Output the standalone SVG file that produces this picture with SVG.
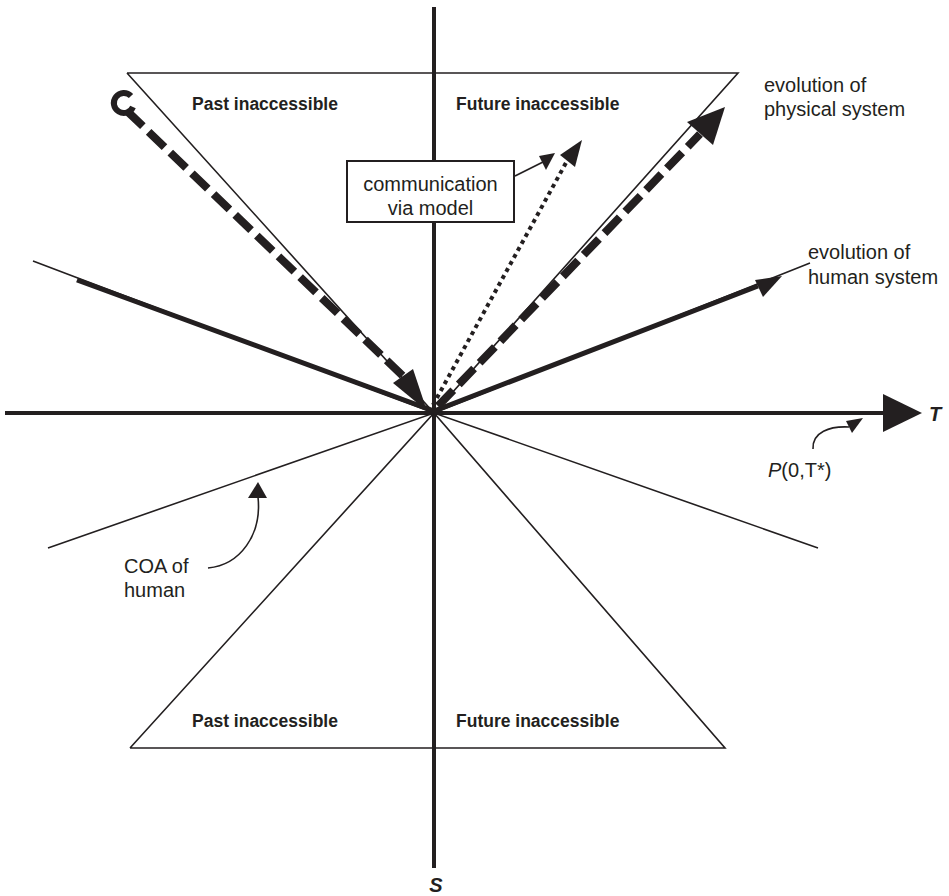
<svg xmlns="http://www.w3.org/2000/svg" width="949" height="896" viewBox="0 0 949 896">
<style>
.thin{stroke:#231f20;stroke-width:1.6;fill:none}
.axis{stroke:#231f20;stroke-width:4;fill:none}
.thick{stroke:#231f20;stroke-width:5;fill:none}
.dash{stroke:#231f20;stroke-width:8;fill:none;stroke-dasharray:22 8}
.dot{stroke:#231f20;stroke-width:4;fill:none;stroke-dasharray:4 4}
.head{fill:#231f20;stroke:none}
.lbl{font-family:"Liberation Sans",Arial,sans-serif;font-size:20px;fill:#231f20}
.b{font-weight:bold;font-size:17.5px}
.ax{font-weight:bold;font-style:italic;font-size:20px}
</style>
<rect width="949" height="896" fill="#fff"/>
<g id="connectors">
<line class="axis" x1="434" y1="7" x2="434" y2="868"/>
<line class="axis" x1="5" y1="413" x2="885" y2="413"/>
<polygon class="head" points="922,413 883,394 883,432"/>
<polyline class="thin" points="127,73 738,73 434,413 127,73"/>
<polyline class="thin" points="130,748 725,748 434,413 130,748"/>
<polyline class="thin" points="33,261 434,413 810,263"/>
<polyline class="thin" points="48,548 434,413 818,548"/>
<polyline class="thick" points="77,280 434,411 758,286"/>
<polygon class="head" points="782,276 755,280 763,297"/>
<path class="dash" d="M127,111 L403,376"/>
<polygon class="head" points="427,411 393,383 413,369"/>
<path d="M131,96 A10,10 0 1 0 133,107" stroke="#231f20" stroke-width="6" fill="none"/>
<path class="dash" d="M438,406 L700,134"/>
<polygon class="head" points="725,107 687,122 713,145"/>
<path class="dot" d="M433,405 L567,161"/>
<polygon class="head" points="582,140 560,155 575,167"/>
<line class="thin" x1="515" y1="176" x2="543" y2="162"/>
<polygon class="head" points="555,153 539,156 546,170"/>
<path class="thin" stroke-width="2.5" d="M208,568 C240,565 262,535 258,497"/>
<polygon class="head" points="258,482 248,498 267,498"/>
<path class="thin" stroke-width="2.5" d="M813,449 C812,432 830,426 849,427"/>
<polygon class="head" points="863,418 846,421 852,433"/>
</g>
<g id="node-box">
<rect x="347" y="161" width="167" height="61" fill="#fff" stroke="#231f20" stroke-width="2"/>
<text class="lbl" x="430.5" y="191" text-anchor="middle">communication</text>
<text class="lbl" x="430.5" y="215" text-anchor="middle">via model</text>
</g>
<g id="labels">
<text class="lbl b" x="192" y="110">Past inaccessible</text>
<text class="lbl b" x="456" y="110">Future inaccessible</text>
<text class="lbl b" x="192" y="727">Past inaccessible</text>
<text class="lbl b" x="456" y="727">Future inaccessible</text>
<text class="lbl" x="764" y="92">evolution of</text>
<text class="lbl" x="764" y="116">physical system</text>
<text class="lbl" x="808" y="259">evolution of</text>
<text class="lbl" x="808" y="284">human system</text>
<text class="lbl" x="768" y="477"><tspan font-style="italic">P</tspan>(0,T*)</text>
<text class="lbl" x="124" y="573">COA of</text>
<text class="lbl" x="124" y="597">human</text>
<text class="lbl ax" x="929" y="421">T</text>
<text class="lbl ax" x="436" y="892" text-anchor="middle">S</text>
</g>
</svg>
